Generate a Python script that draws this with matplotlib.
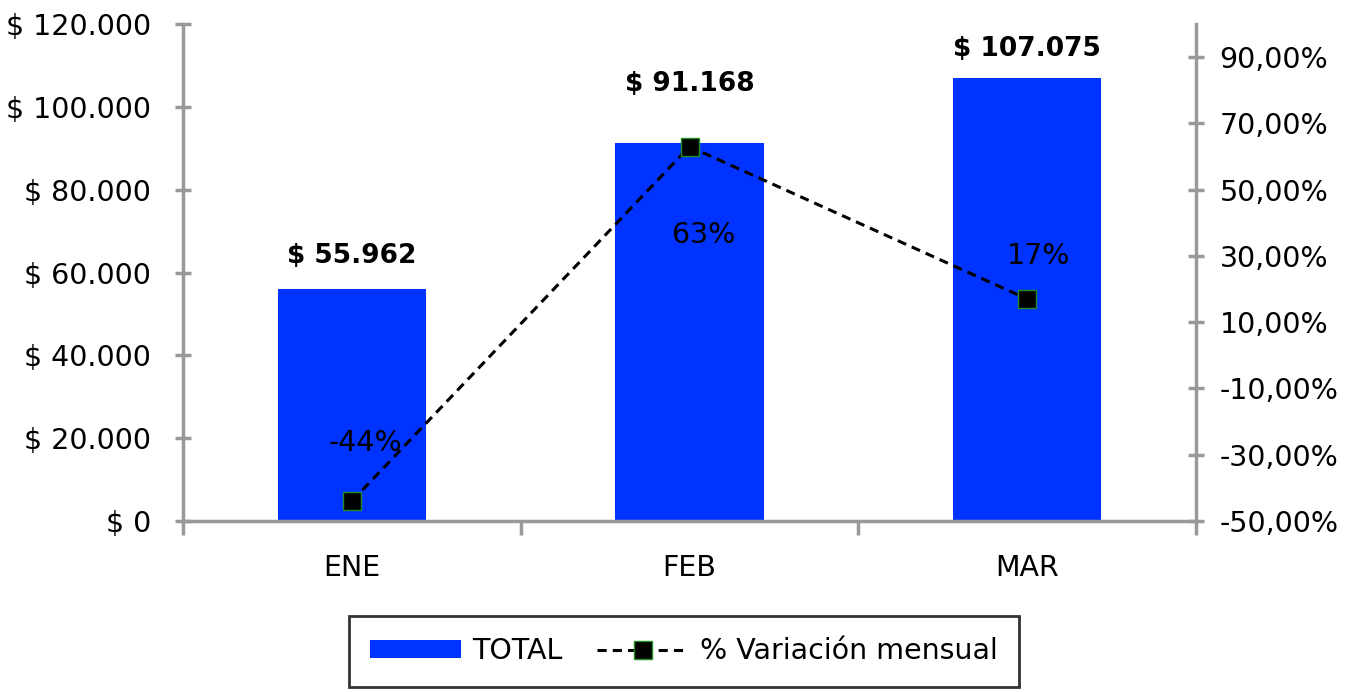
import matplotlib.pyplot as plt
from matplotlib.ticker import FixedLocator, FuncFormatter

MONTHS = ["ENE", "FEB", "MAR"]
TOTALS = [55962, 91168, 107075]
VARIATION = [-0.44, 0.63, 0.17]
TOTAL_LABELS = ["$ 55.962", "$ 91.168", "$ 107.075"]
VARIATION_LABELS = ["-44%", "63%", "17%"]
LEFT_TICKS = [0, 20000, 40000, 60000, 80000, 100000, 120000]
RIGHT_TICKS = [-0.5, -0.3, -0.1, 0.1, 0.3, 0.5, 0.7, 0.9]

BAR_COLOR = "#0033FF"
AXIS_GRAY = "#999999"
FONT = "DejaVu Sans"
FS = 20.5

plt.rcParams["font.family"] = FONT


def money(v, _pos=None):
    return "$ " + f"{int(v):,}".replace(",", ".")


def pct(v, _pos=None):
    return f"{v * 100:.2f}%".replace(".", ",")


def style_axis(ax):
    for side in ["top", "left", "right", "bottom"]:
        ax.spines[side].set_visible(False)


fig = plt.figure(figsize=(13.54, 6.92), dpi=100)
ax = fig.add_axes([0.1352, 0.2471, 0.8833 - 0.1352, 0.9653 - 0.2471])
ax2 = ax.twinx()

x = list(range(len(MONTHS)))
bars = ax.bar(x, TOTALS, width=0.44, color=BAR_COLOR, label="TOTAL", zorder=2)
ax.set_xlim(-0.5, len(MONTHS) - 0.5)
ax.set_ylim(0, 120000)
ax2.set_ylim(-0.5, 1.0)

style_axis(ax)
style_axis(ax2)
ax.spines["left"].set_visible(True)
ax.spines["bottom"].set_visible(True)
ax2.spines["right"].set_visible(True)
for sp in [ax.spines["left"], ax.spines["bottom"], ax2.spines["right"]]:
    sp.set_color(AXIS_GRAY)
    sp.set_linewidth(2.5)

ax.yaxis.set_major_locator(FixedLocator(LEFT_TICKS))
ax.yaxis.set_major_formatter(FuncFormatter(money))
ax.tick_params(axis="y", direction="inout", length=12, width=2.5, color=AXIS_GRAY,
               labelsize=FS, pad=17)

ax2.yaxis.set_major_locator(FixedLocator(RIGHT_TICKS))
ax2.yaxis.set_major_formatter(FuncFormatter(pct))
ax2.tick_params(axis="y", direction="inout", length=12, width=2.5, color=AXIS_GRAY,
                labelsize=FS, pad=11)

# category boundaries as ticks, names centred under the bars
ax.set_xticks([i - 0.5 for i in range(len(MONTHS) + 1)])
ax.set_xticklabels([""] * (len(MONTHS) + 1))
ax.set_xticks(x, minor=True)
ax.set_xticklabels(MONTHS, minor=True)
ax.tick_params(axis="x", which="major", direction="out", length=10, width=2.5, color=AXIS_GRAY)
ax.tick_params(axis="x", which="minor", length=0, labelsize=FS, pad=24)

total_offsets = [33, 59, 29]
for rect, lbl, off in zip(bars, TOTAL_LABELS, total_offsets):
    ax.annotate(lbl, (rect.get_x() + rect.get_width() / 2, rect.get_height()),
                xytext=(0, off), textcoords="offset pixels", ha="center", va="center",
                fontsize=19, fontweight="bold")

line, = ax2.plot(x, VARIATION, color="black", linestyle="--", linewidth=2.2,
                 dashes=(3, 2), marker="s", markersize=13, markerfacecolor="black",
                 markeredgecolor="#1f8f1f", markeredgewidth=1,
                 label="% Variación mensual", zorder=3)

label_offsets = [(10, 42), (10, -64), (8, 31)]
for xi, v, lbl, off in zip(x, VARIATION, VARIATION_LABELS, label_offsets):
    ax2.annotate(lbl, (xi, v), xytext=off, textcoords="offset points",
                 ha="center", va="center", fontsize=FS)

leg = fig.legend(handles=[bars, line], loc="center", bbox_to_anchor=(0.505, 0.059),
                 ncol=2, frameon=True, fancybox=False, fontsize=FS,
                 handlelength=3.2, handleheight=0.6, columnspacing=1.2,
                 borderpad=0.75, handletextpad=0.4)
leg.get_frame().set_edgecolor("black")
leg.get_frame().set_linewidth(2)

fig.savefig("out.png", dpi=100)
